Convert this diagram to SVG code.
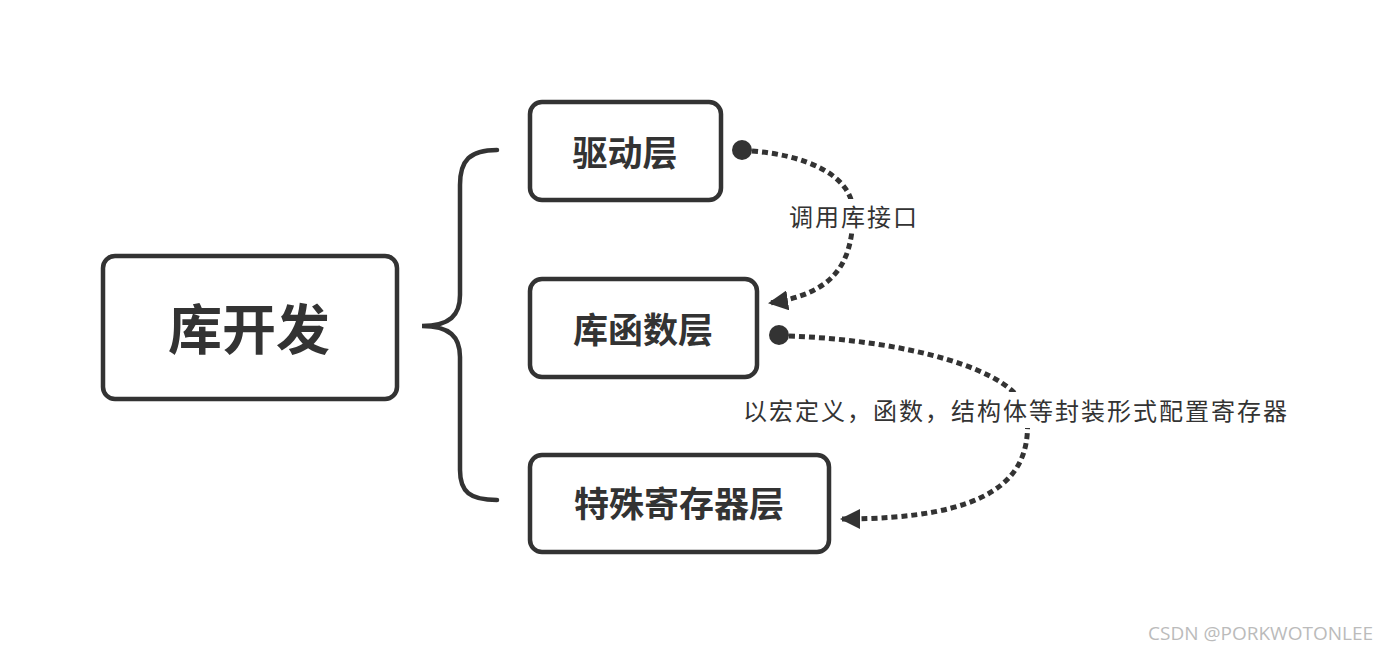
<svg xmlns="http://www.w3.org/2000/svg" width="1388" height="652" viewBox="0 0 1388 652">
<style>
.box{fill:#fff;stroke:#333;stroke-width:4.5}
.t{font-family:"Noto Sans CJK SC","Noto Sans",sans-serif;fill:#333;text-anchor:middle;dominant-baseline:central}
.b{font-weight:bold}
.lbl{font-size:24px;letter-spacing:2px}
.conn{fill:none;stroke:#333;stroke-width:5;stroke-dasharray:6 4}
.brace{fill:none;stroke:#333;stroke-width:4.5;stroke-linecap:round}
</style>
<defs>
<marker id="arr" viewBox="0 0 10 10" refX="9" refY="5" markerWidth="20" markerHeight="20" markerUnits="userSpaceOnUse" orient="auto">
<path d="M0,0 L10,5 L0,10 z" fill="#333"/>
</marker>
</defs>
<rect width="1388" height="652" fill="#fff"/>
<g id="connectors">
<path class="brace" d="M497,150 C470,150 460,160 460,185 L460,295 C460,315 450,326 422,326 C450,326 460,337 460,357 L460,470 C460,492 470,500 497,500"/>
<circle cx="742" cy="150" r="10" fill="#333"/>
<path class="conn" d="M752,151 C805,155 853,175 853,212 C853,268 830,294 770,303" marker-end="url(#arr)"/>
<circle cx="779" cy="335" r="10" fill="#333"/>
<path class="conn" d="M789,336 C900,340 1020,368 1027,415 C1033,480 990,519 842,519" marker-end="url(#arr)"/>
</g>
<g id="label1">
<rect x="784" y="199" width="138" height="34" fill="#fff"/>
<text class="t lbl" x="854" y="215">调用库接口</text>
</g>
<g id="label2">
<rect x="738" y="392" width="554" height="36" fill="#fff"/>
<text class="t lbl" x="1016" y="409">以宏定义，函数，结构体等封装形式配置寄存器</text>
</g>
<g id="root">
<rect class="box" x="103" y="256" width="294" height="143" rx="12"/>
<text class="t b" x="249" y="326" font-size="54">库开发</text>
</g>
<g id="driver">
<rect class="box" x="530" y="102" width="191" height="98" rx="12"/>
<text class="t b" x="625" y="150" font-size="35">驱动层</text>
</g>
<g id="lib">
<rect class="box" x="530" y="279" width="227" height="98" rx="12"/>
<text class="t b" x="643" y="327" font-size="35">库函数层</text>
</g>
<g id="reg">
<rect class="box" x="530" y="455" width="299" height="97" rx="12"/>
<text class="t b" x="679" y="501" font-size="35">特殊寄存器层</text>
</g>
<text x="1373" y="640" font-family="'Open Sans',sans-serif" font-size="19" fill="#bbb" text-anchor="end">CSDN @PORKWOTONLEE</text>
</svg>
